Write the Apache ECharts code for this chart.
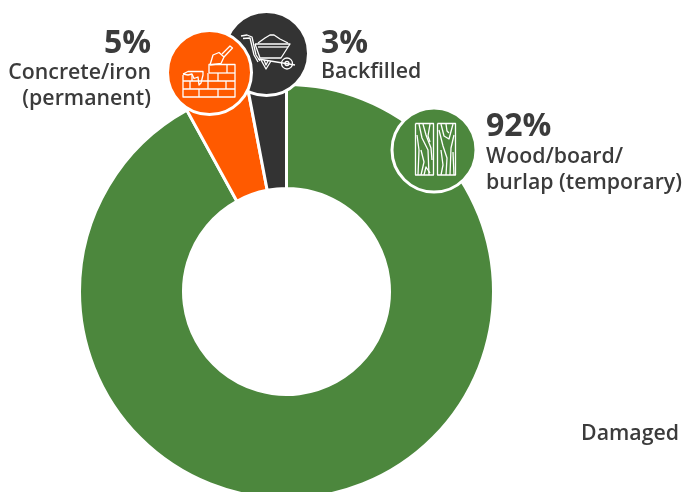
<!DOCTYPE html>
<html>
<head>
<meta charset="utf-8">
<style>html,body{margin:0;padding:0;background:#fff}#chart{width:683px;height:492px}</style>
<script src="https://cdn.jsdelivr.net/npm/echarts@6/dist/echarts.min.js"></script>
</head>
<body>
<div id="chart"></div>
<script>
// Repair types and their share of damaged structures
const categories = ['Wood/board/\nburlap (temporary)', 'Concrete/iron\n(permanent)', 'Backfilled'];
const shares = [92, 5, 3];
const sliceColors = ['#4c873d', '#ff5a00', '#333333'];
const groupLabel = 'Damaged';

const FONT = '"Open Sans", sans-serif';
const INK = '#3b3b3b';

// Line-art icons, each stroke listed as [x, y] pairs
const brickIcon = [
  [[183,75],[183,97],[235,97],[235,64.5],[209,64.5],[209,73]],
  [[183,81],[235,81]], [[183,89],[235,89]], [[209,73],[235,73]],
  [[192,75],[192,81]], [[208,73],[208,81]], [[218,73],[218,81]], [[227,64.5],[227,73]],
  [[190,81],[190,89]], [[208,81],[208,89]], [[226,81],[226,89]],
  [[199,89],[199,97]], [[218,89],[218,97]],
  [[183,74],[188,71.5],[203,71.5],[203,75],[201,83],[199,85],[198,77],[194,78.5],[192,74],[188,75],[183,74]],
  [[210,65],[213,55],[219,52.5],[224,57],[221,63.5],[210,65]],
  [[222,54],[230,46],[232.5,48],[224,57]]
];
const barrowIcon = [
  [[241,36],[247,35],[252,37],[256,55],[260,61]],
  [[243,38.5],[250,38],[254,55],[258,62]],
  [[255,44],[290,44],[281,58],[260,58],[255,44]],
  [[258,47],[288,47]],
  [[258,43],[265,38],[270,35],[274,35],[280,39],[288,43]],
  [[258,59],[295,65]],
  [[261,60],[266,69],[271,61]], [[264,60],[266,65],[268,61]]
];
const barrowWheels = [[287, 63.5, 5.5], [287, 63.5, 2]];
const woodIcon = [
  [[415.5,123.5],[433.5,123.5],[433.5,175],[415.5,175],[415.5,123.5]],
  [[437.5,123.5],[455.5,123.5],[455.5,175],[437.5,175],[437.5,123.5]],
  [[419,124],[422,138],[428,150],[429,175]],
  [[423,124],[426,135],[431,148],[432,160]],
  [[430,124],[428,136],[430,142]],
  [[417,135],[419,150],[418,175]],
  [[421,150],[424,162],[421,175]],
  [[424,175],[426,167],[430,173]],
  [[441,124],[444,136],[449,139],[453,124]],
  [[446,124],[447,131],[449,133]],
  [[439,130],[443,146],[447,158],[446,175]],
  [[454,135],[451,148],[450,175]],
  [[441,150],[443,165],[441,175]],
  [[453,152],[454,175]]
];

function strokes(list) {
  return list.map(points => ({
    type: 'polyline',
    z: 12,
    shape: { points },
    style: { fill: 'none', stroke: '#fff', lineWidth: 1.3, lineJoin: 'round' },
    silent: true
  }));
}
function wheels(list) {
  return list.map(([cx, cy, r]) => ({
    type: 'circle', z: 12,
    shape: { cx, cy, r },
    style: { fill: 'none', stroke: '#fff', lineWidth: 1.3 },
    silent: true
  }));
}
function badge(cx, cy, fill, z) {
  return {
    type: 'circle', z,
    shape: { cx, cy, r: 42 },
    style: { fill, stroke: '#fff', lineWidth: 3 },
    silent: true
  };
}
function text(x, y, str, size, weight, align, lineHeight) {
  return {
    type: 'text', z: 12, x, y,
    style: {
      text: str, fill: INK, font: weight + ' ' + size + 'px ' + FONT,
      align, verticalAlign: 'middle', lineHeight
    },
    silent: true
  };
}

const chart = echarts.init(document.getElementById('chart'), null, { renderer: 'canvas' });
chart.setOption({
  animation: false,
  backgroundColor: '#fff',
  series: [{
    type: 'pie',
    center: [286.5, 291.5],
    radius: [103, 207],
    startAngle: 90,
    clockwise: true,
    silent: true,
    label: { show: false },
    labelLine: { show: false },
    itemStyle: { borderColor: '#fff', borderWidth: 3 },
    data: shares.map((value, i) => ({
      value, name: categories[i], itemStyle: { color: sliceColors[i] }
    }))
  }],
  graphic: { elements: [
    badge(266.5, 53.5, sliceColors[2], 10),
    badge(209.5, 72.5, sliceColors[1], 11),
    badge(434, 150, sliceColors[0], 10),
    ...strokes(barrowIcon), ...wheels(barrowWheels), ...strokes(brickIcon), ...strokes(woodIcon),
    text(486, 127, shares[0] + '%', 32, 700, 'left'),
    text(486, 169.5, categories[0], 21.3, 600, 'left', 26),
    text(151, 44, shares[1] + '%', 32, 700, 'right'),
    text(151, 86, categories[1], 21.3, 600, 'right', 26),
    text(321, 44, shares[2] + '%', 32, 700, 'left'),
    text(321, 72, categories[2], 21.3, 600, 'left'),
    text(679, 434, groupLabel, 21.3, 600, 'right')
  ] }
});
</script>
</body>
</html>
